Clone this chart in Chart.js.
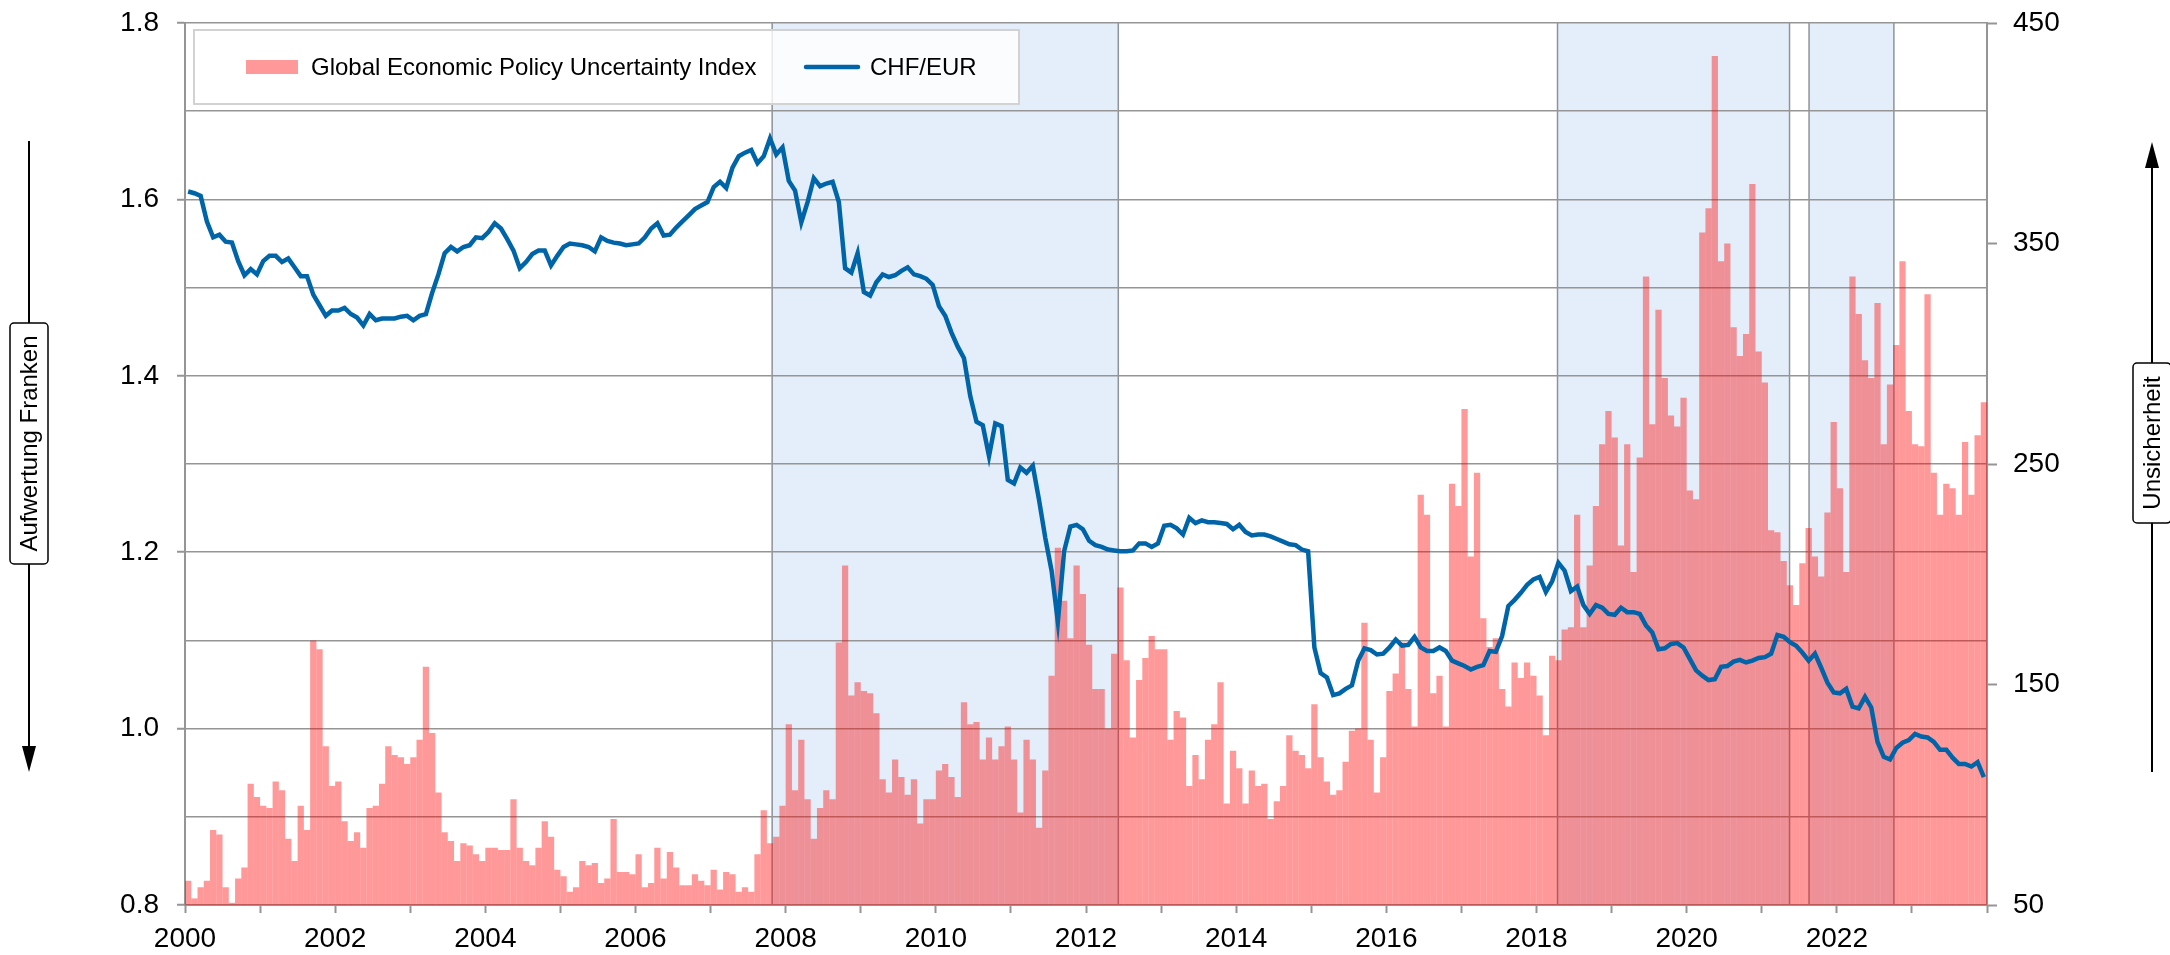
<!DOCTYPE html>
<html>
<head>
<meta charset="utf-8">
<script src="https://cdn.jsdelivr.net/npm/chart.js@4.4.1/dist/chart.umd.min.js"></script>
<style>
html, body { margin: 0; padding: 0; background: #fff; }
</style>
</head>
<body>
<canvas id="grafico" width="2170" height="955"></canvas>
<script>
// Monatsdaten Jan 2000 - Dez 2023
var monate = [];
for (var j = 2000; j <= 2023; j++) {
    for (var m = 1; m <= 12; m++) monate.push(j + '-' + (m < 10 ? '0' + m : m));
}

var unsicherheit = [
    61, 53, 58, 61, 84, 82, 58, 51, 62, 67, 105, 99,
    95, 94, 106, 102, 80, 70, 95, 84, 170, 166, 122, 104,
    106, 88, 79, 83, 76, 94, 95, 105, 122, 118, 117, 114,
    117, 125, 158, 128, 101, 83, 79, 70, 78, 77, 73, 70,
    76, 76, 75, 75, 98, 76, 70, 68, 76, 88, 81, 66,
    63, 56, 58, 70, 68, 69, 60, 62, 89, 65, 65, 64,
    73, 58, 60, 76, 62, 74, 67, 59, 59, 64, 61, 59,
    66, 57, 65, 64, 56, 58, 56, 73, 93, 78, 81, 95,
    132, 102, 125, 98, 80, 94, 102, 98, 169, 204, 145, 151,
    147, 146, 137, 107, 101, 116, 108, 100, 107, 87, 98, 98,
    111, 114, 108, 99, 142, 132, 133, 116, 126, 116, 122, 131,
    116, 92, 125, 116, 85, 111, 154, 212, 188, 171, 204, 191,
    168, 148, 148, 130, 164, 194, 161, 126, 152, 162, 172, 166,
    166, 125, 138, 135, 104, 118, 107, 125, 132, 151, 96, 120,
    112, 96, 111, 104, 105, 89, 97, 104, 127, 120, 118, 112,
    141, 117, 106, 100, 102, 115, 129, 130, 178, 125, 101, 117,
    147, 155, 169, 148, 131, 236, 227, 146, 154, 131, 241, 231,
    275, 208, 246, 180, 167, 171, 148, 140, 160, 153, 160, 154,
    145, 127, 163, 161, 175, 176, 227, 176, 204, 231, 259, 274,
    262, 213, 259, 201, 253, 335, 268, 320, 289, 272, 267, 280,
    238, 234, 355, 366, 435, 342, 350, 312, 299, 309, 377, 301,
    287, 220, 219, 206, 195, 186, 205, 221, 208, 199, 228, 269,
    239, 201, 335, 318, 297, 289, 323, 259, 286, 304, 342, 274,
    259, 258, 327, 246, 227, 241, 239, 227, 260, 236, 263, 278
];

var chfEur = [
    1.609, 1.607, 1.604, 1.575, 1.557, 1.560, 1.552, 1.551, 1.530, 1.514, 1.521, 1.515,
    1.530, 1.536, 1.536, 1.529, 1.533, 1.523, 1.513, 1.513, 1.492, 1.480, 1.468, 1.474,
    1.474, 1.477, 1.470, 1.466, 1.457, 1.470, 1.463, 1.465, 1.465, 1.465, 1.467, 1.468,
    1.463, 1.468, 1.470, 1.494, 1.515, 1.539, 1.546, 1.541, 1.546, 1.548, 1.557, 1.556,
    1.563, 1.573, 1.567, 1.555, 1.542, 1.522, 1.529, 1.538, 1.542, 1.542, 1.525, 1.536,
    1.546, 1.550, 1.549, 1.548, 1.546, 1.541, 1.557, 1.553, 1.551, 1.550, 1.548, 1.549,
    1.550, 1.557, 1.567, 1.573, 1.559, 1.560, 1.568, 1.575, 1.582, 1.589, 1.593, 1.597,
    1.614, 1.620, 1.613, 1.636, 1.649, 1.653, 1.656, 1.641, 1.649, 1.669, 1.651, 1.659,
    1.621, 1.610, 1.574, 1.597, 1.624, 1.615, 1.618, 1.620, 1.597, 1.522, 1.517, 1.539,
    1.495, 1.491, 1.506, 1.515, 1.512, 1.514, 1.519, 1.523, 1.515, 1.513, 1.510, 1.503,
    1.479, 1.468, 1.449, 1.433, 1.420, 1.377, 1.348, 1.344, 1.309, 1.346, 1.343, 1.282,
    1.278, 1.296, 1.290, 1.298, 1.259, 1.216, 1.179, 1.121, 1.201, 1.229, 1.231, 1.226,
    1.213, 1.208, 1.206, 1.203, 1.202, 1.201, 1.201, 1.202, 1.210, 1.210, 1.206, 1.210,
    1.230, 1.231, 1.227, 1.220, 1.239, 1.233, 1.236, 1.234, 1.234, 1.233, 1.232, 1.226,
    1.231, 1.223, 1.219, 1.220, 1.220, 1.218, 1.215, 1.212, 1.209, 1.208, 1.203, 1.201,
    1.092, 1.063, 1.058, 1.038, 1.040, 1.045, 1.049, 1.077, 1.091, 1.089, 1.084, 1.085,
    1.092, 1.101, 1.094, 1.095, 1.104, 1.092, 1.088, 1.088, 1.092, 1.088, 1.077, 1.074,
    1.071, 1.067, 1.070, 1.072, 1.088, 1.087, 1.105, 1.139, 1.146, 1.154, 1.163, 1.169,
    1.172, 1.155, 1.167, 1.188, 1.179, 1.156, 1.161, 1.140, 1.130, 1.140, 1.137, 1.130,
    1.129, 1.137, 1.132, 1.132, 1.130, 1.117, 1.109, 1.090, 1.091, 1.096, 1.097, 1.092,
    1.079, 1.066, 1.060, 1.055, 1.056, 1.070, 1.071, 1.076, 1.078, 1.075, 1.077, 1.080,
    1.081, 1.085, 1.106, 1.104, 1.098, 1.094, 1.086, 1.077, 1.085, 1.069, 1.052, 1.041,
    1.040, 1.045, 1.025, 1.023, 1.036, 1.024, 0.985, 0.968, 0.965, 0.978, 0.984, 0.987,
    0.994, 0.991, 0.990, 0.985, 0.976, 0.976, 0.967, 0.960, 0.960, 0.957, 0.962, 0.945
];

var jahrTicks = [2000, 2001, 2002, 2003, 2004, 2005, 2006, 2007, 2008, 2009, 2010, 2011,
    2012, 2013, 2014, 2015, 2016, 2017, 2018, 2019, 2020, 2021, 2022, 2023, 2024];

// schattierte Phasen (in Jahren)
var phasen = [[2007.82, 2012.43], [2018.28, 2021.37], [2021.63, 2022.76]];

var schrift = '"Liberation Sans", Arial, sans-serif';
var grau = '#959595';

var phasenPlugin = {
    id: 'phasen',
    beforeDraw: function (chart) {
        var ctx = chart.ctx, a = chart.chartArea, xs = chart.scales.xJahr;
        ctx.save();
        phasen.forEach(function (p) {
            var x0 = xs.getPixelForValue(p[0]), x1 = xs.getPixelForValue(p[1]);
            ctx.fillStyle = 'rgb(228,238,251)';
            ctx.fillRect(x0, a.top, x1 - x0, a.bottom - a.top);
            ctx.strokeStyle = '#8e939b';
            ctx.lineWidth = 1.5;
            ctx.beginPath();
            ctx.moveTo(x0, a.top); ctx.lineTo(x0, a.bottom);
            ctx.moveTo(x1, a.top); ctx.lineTo(x1, a.bottom);
            ctx.stroke();
        });
        ctx.restore();
    }
};

function achsenTitel(ctx, text, cx, cy, h, w) {
    ctx.save();
    ctx.fillStyle = '#fff';
    ctx.strokeStyle = '#000';
    ctx.lineWidth = 1.5;
    ctx.beginPath();
    ctx.roundRect(cx - w / 2, cy - h / 2, w, h, 4);
    ctx.fill();
    ctx.stroke();
    ctx.translate(cx, cy);
    ctx.rotate(-Math.PI / 2);
    ctx.fillStyle = '#000';
    ctx.font = '24px ' + schrift;
    ctx.textAlign = 'center';
    ctx.textBaseline = 'middle';
    ctx.fillText(text, 0, 1);
    ctx.restore();
}

function pfeil(ctx, x, y0, y1, spitze) {
    // Linie von y0 nach y1, Spitze bei y1 falls spitze
    ctx.save();
    ctx.strokeStyle = '#000';
    ctx.fillStyle = '#000';
    ctx.lineWidth = 2;
    var dir = y1 > y0 ? 1 : -1;
    ctx.beginPath();
    ctx.moveTo(x, y0);
    ctx.lineTo(x, spitze ? y1 - dir * 24 : y1);
    ctx.stroke();
    if (spitze) {
        ctx.beginPath();
        ctx.moveTo(x, y1);
        ctx.lineTo(x - 7, y1 - dir * 26);
        ctx.lineTo(x + 7, y1 - dir * 26);
        ctx.closePath();
        ctx.fill();
    }
    ctx.restore();
}

var beschriftungPlugin = {
    id: 'beschriftung',
    afterDraw: function (chart) {
        var ctx = chart.ctx, a = chart.chartArea;
        var ds = chart.data.datasets;
        ctx.save();
        // Legende
        var lx = a.left + 9, ly = a.top + 7;
        ctx.fillStyle = 'rgba(255,255,255,0.8)';
        ctx.fillRect(lx, ly, 825, 74);
        ctx.strokeStyle = '#d2d2d2';
        ctx.lineWidth = 2;
        ctx.strokeRect(lx, ly, 825, 74);
        var my = ly + 37;
        ctx.fillStyle = ds[0].backgroundColor;
        ctx.fillRect(lx + 52, my - 7, 52, 14);
        ctx.font = '24px ' + schrift;
        ctx.fillStyle = '#000';
        ctx.textBaseline = 'middle';
        ctx.fillText(ds[0].label, lx + 117, my + 1);
        ctx.strokeStyle = ds[1].borderColor;
        ctx.lineWidth = 4.5;
        ctx.lineCap = 'round';
        ctx.beginPath();
        ctx.moveTo(lx + 612, my);
        ctx.lineTo(lx + 664, my);
        ctx.stroke();
        ctx.fillText(ds[1].label, lx + 676, my + 1);
        ctx.restore();

        // Achsentitel mit Pfeilen
        pfeil(ctx, 29, 141, 323, false);
        pfeil(ctx, 29, 564, 772, true);
        achsenTitel(ctx, 'Aufwertung Franken', 29, 443.5, 241, 38);
        pfeil(ctx, 2152, 363, 142, true);
        pfeil(ctx, 2152, 523, 772, false);
        achsenTitel(ctx, 'Unsicherheit', 2152, 443, 160, 38);
    }
};

function ohnePolster(s) {
    s.paddingTop = 0;
    s.paddingBottom = 0;
}

var ctx = document.getElementById('grafico').getContext('2d');
var grafico = new Chart(ctx, {
    type: 'bar',
    data: {
        labels: monate,
        datasets: [
            {
                type: 'bar',
                label: 'Global Economic Policy Uncertainty Index',
                data: unsicherheit,
                backgroundColor: 'rgba(255,0,0,0.4)',
                borderWidth: 0,
                barPercentage: 1,
                categoryPercentage: 1,
                inflateAmount: 0,
                xAxisID: 'x',
                yAxisID: 'y1',
                order: 2
            },
            {
                type: 'line',
                label: 'CHF/EUR',
                data: chfEur,
                borderColor: '#0064a8',
                backgroundColor: '#0064a8',
                borderWidth: 4.5,
                pointRadius: 0,
                lineTension: 0,
                fill: false,
                xAxisID: 'x',
                yAxisID: 'y',
                order: 1
            }
        ]
    },
    options: {
        responsive: false,
        animation: false,
        devicePixelRatio: 1,
        layout: { padding: { top: 23, left: 0, right: 0, bottom: 0 } },
        plugins: {
            legend: { display: false },
            tooltip: { enabled: false }
        },
        scales: {
            x: {
                type: 'category',
                display: false,
                offset: true,
                grid: { display: false }
            },
            xJahr: {
                type: 'linear',
                position: 'bottom',
                min: 2000,
                max: 2024,
                offset: false,
                afterBuildTicks: function (s) {
                    s.ticks = jahrTicks.map(function (v) { return { value: v }; });
                },
                afterFit: function (s) {
                    s.height = 50;
                    s.paddingLeft = 0;
                    s.paddingRight = 0;
                },
                border: { display: true, color: grau, width: 2 },
                grid: { offset: false, drawOnChartArea: false, drawTicks: true, tickLength: 8, tickColor: grau, tickWidth: 2 },
                ticks: {
                    autoSkip: false,
                    maxRotation: 0,
                    padding: 9,
                    color: '#000',
                    font: { family: schrift, size: 28 },
                    callback: function (v) { return (v % 2 === 0 && v < 2024) ? String(v) : ''; }
                }
            },
            y: {
                type: 'linear',
                position: 'left',
                min: 0.8,
                max: 1.8,
                afterFit: function (s) { s.width = 185; ohnePolster(s); },
                border: { display: true, color: grau, width: 2 },
                grid: {
                    color: grau,
                    lineWidth: 1.5,
                    tickLength: 8,
                    tickWidth: 2,
                    tickColor: function (c) {
                        return Math.round(c.tick.value * 10) % 2 === 0 ? grau : 'rgba(0,0,0,0)';
                    }
                },
                ticks: {
                    stepSize: 0.1,
                    padding: 18,
                    color: '#000',
                    font: { family: schrift, size: 28 },
                    callback: function (v) {
                        var k = Math.round(v * 10);
                        return k % 2 === 0 ? (k / 10).toFixed(1) : '';
                    }
                }
            },
            y1: {
                type: 'linear',
                position: 'right',
                min: 50,
                max: 450,
                afterFit: function (s) { s.width = 183; ohnePolster(s); },
                border: { display: true, color: grau, width: 2 },
                grid: { drawOnChartArea: false, tickLength: 10, tickColor: grau, tickWidth: 2 },
                ticks: {
                    stepSize: 100,
                    padding: 16,
                    color: '#000',
                    font: { family: schrift, size: 28 }
                }
            }
        }
    },
    plugins: [phasenPlugin, beschriftungPlugin]
});
</script>
</body>
</html>
